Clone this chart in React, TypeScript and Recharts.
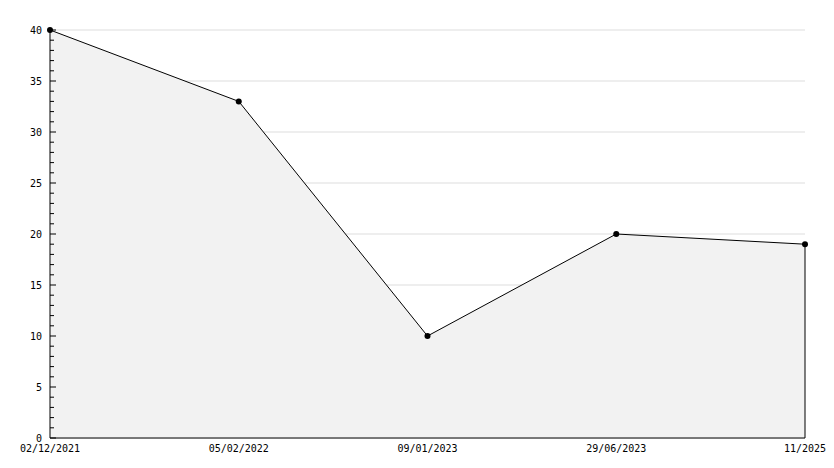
import React from 'react';
import { AreaChart, Area, XAxis, YAxis, CartesianGrid, ReferenceLine } from 'recharts';

const dates = ['02/12/2021', '05/02/2022', '09/01/2023', '29/06/2023', '11/2025'];
const values = [40, 33, 10, 20, 19];
const yTicks = Array.from({ length: 41 }, (_, i) => i);
const yMajor = [0, 5, 10, 15, 20, 25, 30, 35, 40];

const data = dates.map((d, i) => ({ date: d, value: values[i] }));
const FONT = '"DejaVu Sans Mono", monospace';

const YTick = (props: any) => {
  const { x, y, payload } = props;
  const v = payload.value;
  const major = v % 5 === 0;
  return (
    <g>
      <line x1={x} x2={x + (major ? 6 : 4)} y1={y} y2={y} stroke="#000" strokeWidth={1} />
      {major && (
        <text x={x - 8} y={y} dy={3.5} textAnchor="end" fontFamily={FONT} fontSize={10} fill="#000">
          {v}
        </text>
      )}
    </g>
  );
};

const XTick = (props: any) => {
  const { x, y, payload } = props;
  return (
    <text x={x} y={y} dy={10} textAnchor="middle" fontFamily={FONT} fontSize={10} fill="#000">
      {payload.value}
    </text>
  );
};

export default function App() {
  return (
    <div style={{ position: 'absolute', left: 0, top: 0, background: '#fff' }}>
      <AreaChart width={834} height={468} data={data} margin={{ top: 30, right: 29, bottom: 0, left: 0 }}>
        <CartesianGrid vertical={false} horizontalValues={yMajor} stroke="#dddddd" strokeWidth={1} />
        <XAxis
          dataKey="date"
          height={30}
          tickLine={false}
          tickSize={0}
          tickMargin={4}
          axisLine={{ stroke: '#000' }}
          tick={<XTick />}
          interval={0}
        />
        <YAxis
          width={50}
          domain={[0, 40]}
          ticks={yTicks}
          interval={0}
          tickLine={false}
          tickSize={0}
          tickMargin={0}
          axisLine={{ stroke: '#000' }}
          tick={<YTick />}
        />
        <Area
          type="linear"
          dataKey="value"
          stroke="#000"
          strokeWidth={1}
          fill="#f2f2f2"
          fillOpacity={1}
          dot={{ r: 3, fill: '#000', stroke: '#000', strokeWidth: 0 }}
          activeDot={false}
          isAnimationActive={false}
        />
        <ReferenceLine
          segment={[{ x: dates[dates.length - 1], y: 0 }, { x: dates[dates.length - 1], y: values[values.length - 1] }]}
          stroke="#000"
          strokeWidth={1}
        />
      </AreaChart>
    </div>
  );
}
